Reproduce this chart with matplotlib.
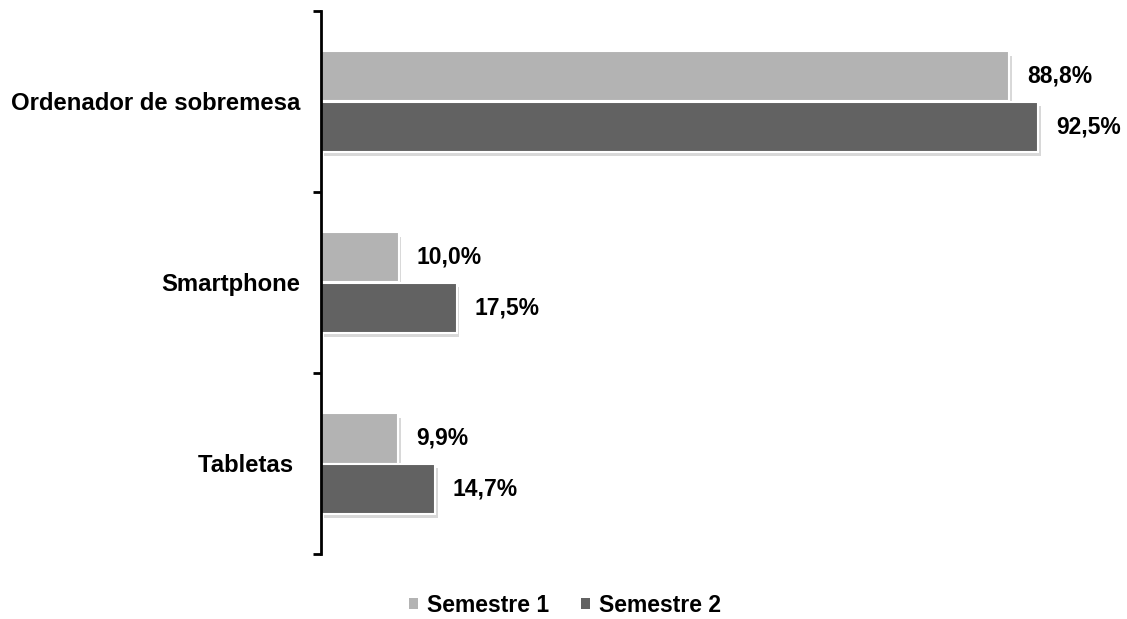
import matplotlib
matplotlib.use('Agg')
import matplotlib.pyplot as plt
import matplotlib.patheffects as pe
from matplotlib.patches import Patch
import numpy as np

categories = ['Ordenador de sobremesa', 'Smartphone', 'Tabletas ']
semestre1 = [88.8, 10.0, 9.9]
semestre2 = [92.5, 17.5, 14.7]
series_names = ['Semestre 1', 'Semestre 2']
colors = ['#B3B3B3', '#626262']

plt.rcParams['font.family'] = ['Liberation Sans', 'DejaVu Sans']
plt.rcParams['font.weight'] = 'bold'

fig = plt.figure(figsize=(11.27, 6.19), dpi=100)
ax = fig.add_axes([321 / 1127, 1 - 554 / 619, (1096 - 321) / 1127, (554 - 11) / 619])

y = np.arange(len(categories))
h = 0.277
shadow = [pe.SimplePatchShadow(offset=(2, -3), shadow_rgbFace='#808080', alpha=0.3), pe.Normal()]

for vals, off, col in [(semestre1, -h / 2, colors[0]), (semestre2, h / 2, colors[1])]:
    bars = ax.barh(y + off, vals, height=h, color=col, edgecolor='white', linewidth=1.5)
    for b, v in zip(bars, vals):
        b.set_path_effects(shadow)
        ax.annotate(f'{v:.1f}%'.replace('.', ','), (v, b.get_y() + h / 2),
                    xytext=(13, 0), textcoords='offset points',
                    ha='left', va='center', fontsize=16.5, fontweight='bold')

ax.set_xlim(0, 100)
ax.set_ylim(len(categories) - 0.5, -0.5)

# ticks on category boundaries, labels at category centres
ax.set_yticks(np.arange(-0.5, len(categories), 1.0))
ax.set_yticklabels([])
ax.set_yticks(y, minor=True)
ax.set_yticklabels(categories, minor=True, fontsize=17.2, fontweight='bold')
ax.tick_params(axis='y', which='major', length=6, width=2, direction='out')
ax.tick_params(axis='y', which='minor', length=0, pad=15)
ax.set_xticks([])

for s in ['top', 'right', 'bottom']:
    ax.spines[s].set_visible(False)
ax.spines['left'].set_linewidth(2)
ax.spines['left'].set_color('black')

handles = [Patch(facecolor=c, edgecolor='none') for c in colors]
fig.legend(handles, series_names, loc='center', bbox_to_anchor=(565 / 1127, 1 - 605 / 619),
           ncol=2, frameon=False, prop={'size': 16.5, 'weight': 'bold'},
           handlelength=0.4, handleheight=0.4, handletextpad=0.4, columnspacing=1.4)

fig.savefig('out.png', dpi=100, facecolor='white')
